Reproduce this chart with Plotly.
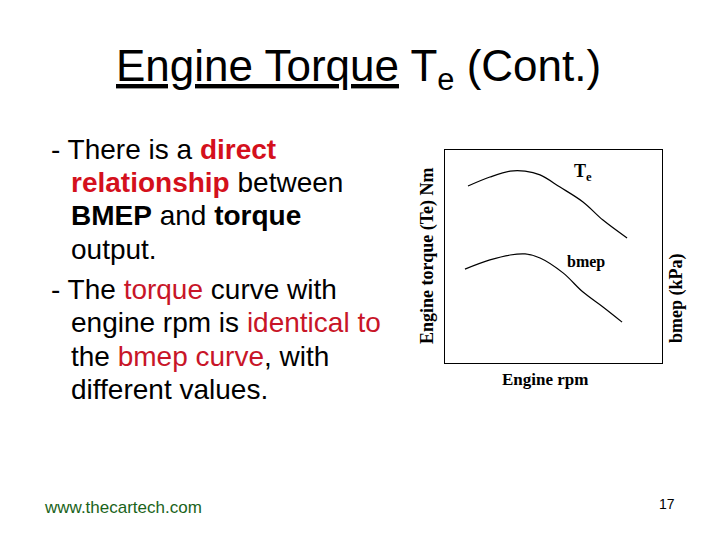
import plotly.graph_objects as go

# Data (arbitrary units)
rpm_te = [10.6, 20.7, 30.0, 36.9, 43.8, 53.0, 63.6, 72.8, 83.9]
torque = [83.1, 87.3, 90.1, 90.1, 88.3, 82.6, 75.6, 67.1, 58.7]
rpm_bm = [9.2, 20.7, 30.0, 36.9, 43.8, 54.4, 63.6, 72.8, 81.6]
bmep = [44.1, 48.4, 50.7, 51.2, 49.3, 42.3, 33.3, 26.3, 19.2]

W, H = 720, 540
def px(x):
    return x / W
def py(y):
    return 1 - y / H

fig = go.Figure()
fig.add_trace(go.Scatter(x=rpm_te, y=torque, mode="lines", line=dict(color="black", width=1.2, shape="spline"), hoverinfo="skip"))
fig.add_trace(go.Scatter(x=rpm_bm, y=bmep, mode="lines", line=dict(color="black", width=1.2, shape="spline"), hoverinfo="skip"))

axis_common = dict(showgrid=False, zeroline=False, showticklabels=False, ticks="",
                   showline=True, linecolor="black", linewidth=1, mirror=True, range=[0, 100])
fig.update_layout(
    width=W, height=H, margin=dict(l=0, r=0, t=0, b=0),
    paper_bgcolor="white", plot_bgcolor="white", showlegend=False,
    xaxis=dict(domain=[px(445), px(662)], **axis_common),
    yaxis=dict(domain=[py(363), py(150)], **axis_common),
)

serif = "Liberation Serif, Times New Roman, serif"
sans = "Liberation Sans, Arial, sans-serif"
anns = []
def add(text, x, y, size, family=sans, color="black", xanchor="left", yanchor="middle", angle=0):
    anns.append(dict(text=text, x=px(x), y=py(y), xref="paper", yref="paper", showarrow=False,
                     xanchor=xanchor, yanchor=yanchor, textangle=angle,
                     font=dict(size=size, family=family, color=color)))

# chart labels
add("<b>T<sub>e</sub></b>", 572, 172, 18, serif)
add("<b>bmep</b>", 565, 262, 16, serif)
add("<b>Engine rpm</b>", 545, 379, 17, serif, xanchor="center")
add("<b>Engine torque (Te) Nm</b>", 427, 256, 18, serif, xanchor="center", angle=-90)
add("<b>bmep (kPa)</b>", 676, 298, 18, serif, xanchor="center", angle=-90)

# slide title
add("<u>Engine Torque</u> T<sub>e</sub> (Cont.)", 358, 69, 44, sans, xanchor="center")

red1 = "#d4101c"
red2 = "#c81528"
lines = [
    (49, 149, f"- There is a <b><span style='color:{red1}'>direct</span></b>"),
    (69, 182, f"<b><span style='color:{red1}'>relationship</span></b> between"),
    (69, 215, "<b>BMEP</b> and <b>torque</b>"),
    (69, 249, "output."),
    (49, 289, f"- The <span style='color:{red2}'>torque</span> curve with"),
    (69, 322, f"engine rpm is <span style='color:{red2}'>identical to</span>"),
    (69, 356, f"the <span style='color:{red2}'>bmep curve</span>, with"),
    (69, 389, "different values."),
]
for x, y, t in lines:
    add(t, x, y, 28, sans)

add("www.thecartech.com", 42, 507, 17, sans, color="#1a631a")
add("17", 677, 504, 14, sans, xanchor="right")

fig.update_layout(annotations=anns)
fig.write_html("out.html", config={"displayModeBar": False},
               post_script="document.body.style.margin='0';document.body.style.overflow='hidden';")
